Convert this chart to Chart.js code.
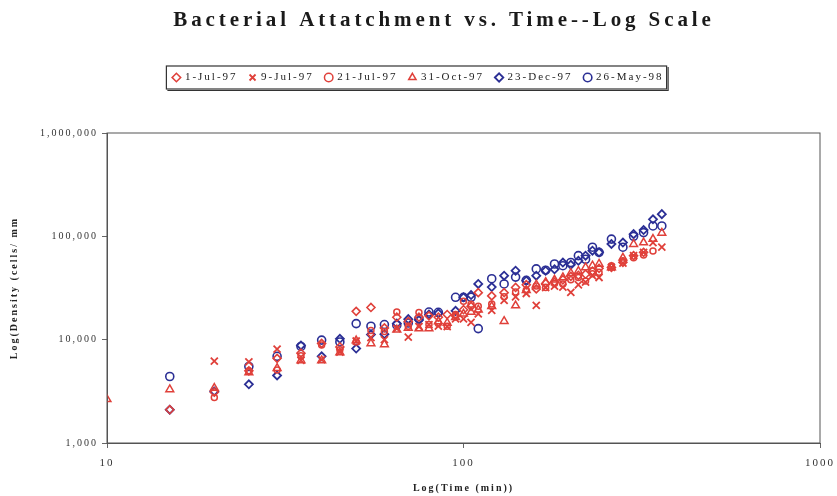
<!DOCTYPE html>
<html lang="en">
<head>
    <meta charset="UTF-8">
    <title>Bacterial Attatchment vs. Time--Log Scale</title>
    <style>
        body {
            margin: 0;
            padding: 0;
            background: #fff;
        }
        #wrap {
            width: 837px;
            height: 496px;
            position: relative;
        }
    </style>
</head>
<body>
    <div id="wrap"><canvas id="attachChart"></canvas></div>

    <script src="https://cdn.jsdelivr.net/npm/chart.js"></script>
    <script>
        // sampling times (min)
        const times = [10, 15, 20, 25, 30, 35, 40, 45, 50, 55,
                       60, 65, 70, 75, 80, 85, 90, 95, 100, 105,
                       110, 120, 130, 140, 150, 160, 170, 180, 190, 200,
                       210, 220, 230, 240, 260, 280, 300, 320, 340, 360];

        // cell density (cells/mm2), one array per run, null = no reading
        const jul1 = [null, 2100, 3100, 5000, 6600, 7400, 9200, 8500, 18800, 20500,
                      13000, 16500, 15000, 16500, 17000, 16500, 17500, 17000, 19500, 21000,
                      28500, 26500, 28500, 32000, 34000, 31000, 35000, 36000, 38000, 41000,
                      42000, 43000, 46000, 49000, 50000, 56000, 65000, 70000, null, null];
        const jul9 = [null, null, 6200, 6100, 8100, 6300, 6400, 7600, 9700, 10500,
                      10000, 12800, 10600, 13400, 14000, 13500, 13400, 15900, 15900, 14700,
                      17800, 19200, 24000, 26000, 28000, 21500, 32000, 33000, 32300, 28700,
                      34000, 36000, 41600, 40000, 50000, 55000, 65000, 70000, 87000, 78500];
        const jul21 = [null, null, 2750, 5000, 5100, 7000, 8900, 8000, 9500, 12300,
                       12000, 18500, 13500, 18300, 14000, 14300, 13500, 17500, 23600, 22000,
                       21000, 22200, 26000, 29000, 30000, 33000, 32000, 35000, 34500, 38000,
                       40000, 37000, 43400, 45000, 52000, 58000, 62000, 66000, 72000, null];
        const oct31 = [2650, 3300, 3400, 4800, 5300, 6300, 6300, 7500, 9800, 9200,
                       9000, 12500, 13000, 12800, 12800, 15000, 14500, 16500, 17800, 18500,
                       19500, 21000, 15100, 21400, 30000, 34000, 36000, 38000, 40000, 44000,
                       46000, 50000, 52000, 54000, 50000, 62000, 84000, 87000, 94000, 108000];
        const dec23 = [null, 2100, 3150, 3700, 4500, 8800, 6900, 10200, 8200, 11200,
                       11300, 14300, 15800, 15500, 17500, 18000, null, 19000, 25700, 27000,
                       34600, 32300, 41600, 46500, 37200, 41600, 46500, 48000, 55800, 53000,
                       58000, 65000, 72600, 70000, 84300, 87000, 105000, 115000, 146000, 164000];
        const may26 = [null, 4400, null, 5500, 6900, 8600, 9900, 9500, 14300, 13500,
                       14000, 13800, 14500, 16000, 18500, 18400, null, 25700, 25700, 25700,
                       12800, 38900, 34600, 40300, 37500, 48400, 47000, 54000, 52000, 55800,
                       65000, 60000, 78500, 70000, 94000, 78500, 100000, 108700, 126000, 126000];

        const seriesNames = ['1-Jul-97', '9-Jul-97', '21-Jul-97', '31-Oct-97', '23-Dec-97', '26-May-98'];
        const xTicks = [10, 100, 1000];
        const yTicks = [1000, 10000, 100000, 1000000];

        const RED = '#e0403a';
        const BLUE = '#2b2f95';
        const SERIF = "'Liberation Serif', 'Times New Roman', serif";

        function points(vals) {
            const out = [];
            for (let i = 0; i < times.length; i++) {
                if (vals[i] !== null) out.push({ x: times[i], y: vals[i] });
            }
            return out;
        }

        function series(i, vals, color, style, radius, bw) {
            return {
                label: seriesNames[i],
                data: points(vals),
                pointStyle: style,
                pointRadius: radius,
                pointHoverRadius: radius,
                borderColor: color,
                backgroundColor: 'rgba(255,255,255,0)',
                borderWidth: bw,
                showLine: false
            };
        }

        // scanned excel look: wide letter spacing everywhere
        const spacing = {
            id: 'spacing',
            beforeUpdate(chart) { chart.ctx.letterSpacing = '2px'; },
            beforeDraw(chart) {
                chart.ctx.letterSpacing = '2px';
                const c = chart.ctx;
                c.save();
                c.fillStyle = '#fff';
                c.fillRect(0, 0, chart.width, chart.height);
                c.restore();
            }
        };

        // plot frame, legend box and the heading
        const decor = {
            id: 'decor',
            afterDraw(chart) {
                const c = chart.ctx;
                const a = chart.chartArea;
                c.save();
                c.strokeStyle = '#555';
                c.lineWidth = 1;
                c.strokeRect(a.left, a.top, a.right - a.left, a.bottom - a.top);

                const boxes = chart.legend.legendHitBoxes;
                let l = Infinity, r = -Infinity, t = Infinity, b = -Infinity;
                boxes.forEach(h => {
                    l = Math.min(l, h.left); r = Math.max(r, h.left + h.width);
                    t = Math.min(t, h.top); b = Math.max(b, h.top + h.height);
                });
                c.strokeStyle = '#333';
                c.lineWidth = 1.2;
                c.strokeRect(l - 7, t - 6, r - l + 10, b - t + 12);
                c.beginPath();
                c.moveTo(l - 6, b + 7.5);
                c.lineTo(r + 4.5, b + 7.5);
                c.lineTo(r + 4.5, t - 5);
                c.stroke();

                c.letterSpacing = '3.9px';
                c.fillStyle = '#1a1a1a';
                c.font = 'bold 21px ' + SERIF;
                c.textAlign = 'center';
                c.textBaseline = 'alphabetic';
                c.fillText('Bacterial Attatchment vs. Time--Log Scale', 444, 26);
                c.restore();
            }
        };

        const ctx = document.getElementById('attachChart').getContext('2d');
        new Chart(ctx, {
            type: 'scatter',
            data: {
                datasets: [
                    series(0, jul1, RED, 'rectRot', 4, 1.6),
                    series(1, jul9, RED, 'crossRot', 5, 1.8),
                    series(2, jul21, RED, 'circle', 3, 1.5),
                    series(3, oct31, RED, 'triangle', 4.5, 1.5),
                    series(4, dec23, BLUE, 'rectRot', 4, 1.8),
                    series(5, may26, BLUE, 'circle', 4, 1.6)
                ]
            },
            options: {
                responsive: true,
                maintainAspectRatio: false,
                animation: false,
                layout: {
                    padding: { top: 60, right: 0, left: 0, bottom: 0 }
                },
                plugins: {
                    title: { display: false },
                    subtitle: {
                        // empty spacer between legend and plot
                        display: true,
                        text: '',
                        weight: 500,
                        font: { size: 1, lineHeight: 1 },
                        padding: { top: 0, bottom: 39 }
                    },
                    legend: {
                        position: 'top',
                        labels: {
                            usePointStyle: true,
                            boxWidth: 6,
                            boxHeight: 6,
                            padding: 12,
                            color: '#222',
                            font: { family: SERIF, size: 11 }
                        }
                    },
                    tooltip: { enabled: false }
                },
                scales: {
                    x: {
                        type: 'logarithmic',
                        min: 10,
                        max: 1000,
                        afterBuildTicks: s => { s.ticks = xTicks.map(v => ({ value: v })); },
                        afterFit: s => { s.height = 53; s.paddingRight = 17; },
                        ticks: {
                            callback: v => String(v),
                            color: '#333',
                            padding: 9,
                            maxRotation: 0,
                            font: { family: SERIF, size: 11 }
                        },
                        grid: { display: true, drawOnChartArea: false, drawTicks: true, tickLength: 5, color: '#666' },
                        border: { color: '#555' },
                        title: {
                            display: true,
                            text: 'Log(Time (min))',
                            color: '#222',
                            font: { family: SERIF, size: 10, weight: 'bold' },
                            padding: { top: 4, bottom: 2 }
                        }
                    },
                    y: {
                        type: 'logarithmic',
                        min: 1000,
                        max: 1000000,
                        afterBuildTicks: s => { s.ticks = yTicks.map(v => ({ value: v })); },
                        afterFit: s => { s.width = 107; },
                        ticks: {
                            callback: v => Number(v).toLocaleString('en-US'),
                            color: '#333',
                            padding: 4,
                            font: { family: SERIF, size: 10 }
                        },
                        grid: { display: true, drawOnChartArea: false, drawTicks: true, tickLength: 5, color: '#666' },
                        border: { color: '#555' },
                        title: {
                            display: true,
                            text: 'Log(Density (cells/ mm',
                            color: '#222',
                            font: { family: SERIF, size: 10, weight: 'bold' },
                            padding: { top: 8, bottom: 0 }
                        }
                    }
                }
            },
            plugins: [spacing, decor]
        });
    </script>
</body>
</html>
